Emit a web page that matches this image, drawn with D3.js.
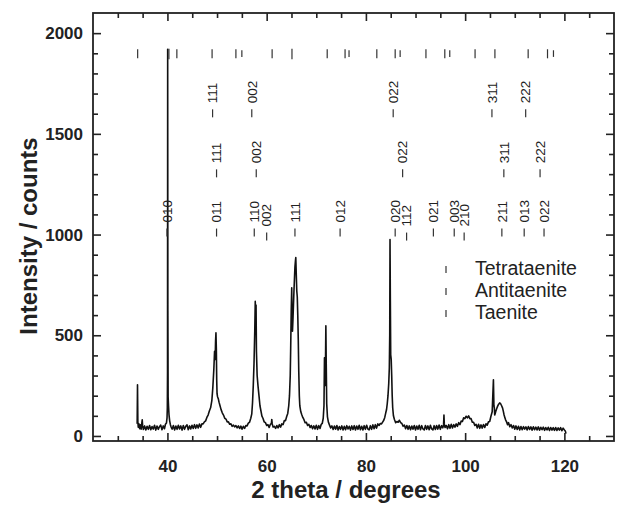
<!DOCTYPE html>
<html><head><meta charset="utf-8">
<script src="https://cdn.jsdelivr.net/npm/d3@7"></script>
<style>body{margin:0;background:#fff;} svg{display:block;}</style>
</head><body>
<svg id="chart" width="620" height="507"></svg>
<script>
// ---------------- data ----------------
const twoTheta = [
33.90,33.97,34.04,34.12,34.25,34.40,34.55,34.70,34.85,34.92,35.00,35.15,35.40,35.65,35.90,36.15,36.40,36.65,36.90,37.15,
37.40,37.65,37.90,38.15,38.40,38.65,38.90,39.15,39.40,39.60,39.80,39.92,39.98,40.02,40.05,40.09,40.14,40.22,40.32,40.45,
40.60,40.75,40.95,41.20,41.45,41.70,41.95,42.20,42.45,42.70,42.95,43.20,43.45,43.70,43.95,44.20,44.45,44.70,44.95,45.20,
45.45,45.70,45.95,46.20,46.45,46.70,46.95,47.20,47.45,47.70,47.95,48.20,48.45,48.70,48.95,49.15,49.35,49.50,49.62,49.70,
49.78,49.86,49.93,50.00,50.10,50.25,50.40,50.60,50.80,51.05,51.30,51.55,51.80,52.05,52.30,52.55,52.80,53.05,53.30,53.55,
53.80,54.05,54.30,54.55,54.80,55.05,55.30,55.55,55.80,56.05,56.30,56.55,56.80,57.00,57.15,57.30,57.45,57.60,57.70,57.78,
57.86,57.94,58.08,58.25,58.45,58.65,58.85,59.05,59.25,59.50,59.75,60.00,60.25,60.50,60.75,60.95,61.03,61.12,61.30,61.55,
61.80,62.05,62.30,62.55,62.80,63.05,63.30,63.55,63.80,64.05,64.25,64.45,64.60,64.75,64.85,64.95,65.05,65.12,65.20,65.30,
65.40,65.50,65.60,65.70,65.80,65.87,65.97,66.07,66.17,66.27,66.37,66.47,66.58,66.68,66.88,67.08,67.28,67.50,67.75,68.00,
68.25,68.50,68.75,69.00,69.25,69.50,69.75,70.00,70.25,70.50,70.75,71.00,71.20,71.40,71.55,71.65,71.73,71.83,71.93,72.01,
72.10,72.25,72.45,72.65,72.90,73.15,73.40,73.65,73.90,74.15,74.40,74.65,74.90,75.15,75.40,75.65,75.90,76.15,76.40,76.65,
76.90,77.15,77.40,77.65,77.90,78.15,78.40,78.65,78.90,79.15,79.40,79.65,79.90,80.15,80.40,80.65,80.90,81.15,81.40,81.65,
81.90,82.15,82.40,82.65,82.90,83.15,83.40,83.60,83.80,84.00,84.15,84.30,84.45,84.60,84.72,84.80,84.86,84.92,85.00,85.10,
85.20,85.30,85.40,85.55,85.75,86.00,86.25,86.50,86.75,87.00,87.25,87.50,87.75,88.00,88.25,88.50,88.75,89.00,89.25,89.50,
89.75,90.00,90.25,90.50,90.75,91.00,91.25,91.50,91.75,92.00,92.25,92.50,92.75,93.00,93.25,93.50,93.75,94.00,94.25,94.50,
94.75,95.00,95.25,95.50,95.65,95.73,95.80,95.95,96.20,96.45,96.70,96.95,97.20,97.45,97.70,97.95,98.20,98.45,98.70,98.95,
99.20,99.45,99.70,99.95,100.20,100.45,100.70,100.95,101.20,101.45,101.70,101.95,102.20,102.45,102.70,102.95,103.20,103.45,103.70,103.95,
104.20,104.45,104.70,104.95,105.20,105.45,105.70,105.80,105.88,105.96,106.04,106.15,106.35,106.55,106.75,106.95,107.15,107.35,107.55,107.70,
107.85,108.00,108.15,108.35,108.55,108.75,109.00,109.25,109.50,109.75,110.00,110.25,110.50,110.75,111.00,111.25,111.50,111.75,112.00,112.25,
112.50,112.75,113.00,113.25,113.50,113.75,114.00,114.25,114.50,114.75,115.00,115.25,115.50,115.75,116.00,116.25,116.50,116.75,117.00,117.25,
117.50,117.75,118.00,118.25,118.50,118.75,119.00,119.25,119.50,119.75,120.00,120.15,120.25,120.30
];
const counts = [
60,254,72,44,60,36,56,34,66,80,50,32,50,30,48,33,52,31,47,34,
53,29,49,33,46,54,31,50,36,58,64,90,140,320,1920,620,195,150,105,75,
56,44,34,52,30,49,33,53,35,50,29,52,33,48,55,31,50,35,53,37,
56,38,55,40,59,43,60,60,70,75,92,104,124,140,175,240,330,420,380,470,
512,430,280,210,195,185,168,150,132,115,104,88,84,70,70,58,60,48,54,45,
52,40,50,37,49,34,48,38,52,50,64,68,88,110,165,250,360,520,668,600,
650,420,300,250,200,150,124,98,88,70,66,52,56,42,58,62,82,60,44,48,
38,52,40,56,44,60,56,76,76,98,112,150,200,300,450,620,736,560,520,580,
650,720,780,840,870,886,800,720,690,600,480,320,200,150,120,105,92,82,66,68,
52,58,42,52,36,50,35,53,33,51,37,58,62,88,150,388,250,300,547,350,
160,95,68,55,40,50,32,49,34,52,30,47,33,50,30,48,31,51,35,48,
29,50,32,51,30,49,33,53,31,48,30,51,33,53,34,30,51,33,55,36,
56,39,60,52,62,60,70,78,92,115,130,160,200,260,338,500,975,700,403,380,
300,200,140,100,82,66,72,68,78,66,62,48,54,36,52,33,50,31,49,34,
52,30,49,33,53,31,51,35,30,52,33,50,31,53,35,30,51,32,52,34,
54,33,51,40,55,104,60,42,52,36,56,38,58,40,56,44,60,48,66,56,
74,72,90,86,98,90,100,86,86,68,68,52,58,40,58,38,55,39,57,42,
60,54,70,72,98,120,279,150,140,104,110,120,135,148,158,164,160,150,138,122,
104,92,80,70,56,66,46,56,40,52,34,50,32,48,30,47,31,46,34,45,
30,47,32,45,29,46,31,44,30,45,29,43,31,44,28,42,30,43,27,42,
29,41,28,42,27,40,29,41,26,39,30,26,20,12
];

const xTickValues = [40, 60, 80, 100, 120];
const yTickValues = [0, 500, 1000, 1500, 2000];

const phaseNames = ["Tetrataenite", "Antitaenite", "Taenite"];
const tetrataenitePeaks = [34.0, 41.9, 49.0, 53.8, 61.1, 72.2, 75.8, 82.2, 85.9, 92.1, 95.9, 102.0, 106.0, 112.7, 116.6];
const antitaenitePeaks = [55.0, 76.6, 86.9, 96.9, 117.8];
const taenitePeaks = [40.3, 65.1];

const hklRow1 = ["111", "002", "022", "311", "222"];
const posRow1 = [49.1, 57.0, 85.5, 105.4, 112.2];
const hklRow2 = ["111", "002", "022", "311", "222"];
const posRow2 = [49.9, 57.9, 87.4, 107.8, 115.1];
const hklRow3 = ["010", "011", "110", "002", "111", "012", "020", "112", "021", "003", "210", "211", "013", "022"];
const posRow3 = [39.9, 49.9, 57.5, 60.0, 65.7, 74.8, 85.9, 88.2, 93.6, 97.8, 99.8, 107.4, 111.9, 115.9];
const rowLevels = [1582, 1284, 990];

// ---------------- drawing ----------------
const svg = d3.select("#chart");
const L = 93, R = 614, T = 13, B = 441;
const x = d3.scaleLinear().domain([25, 130]).range([L, R]);
const y = d3.scaleLinear().domain([-25, 2100]).range([B, T]);
const ink = "#222";
const font = "Liberation Sans, Arial, sans-serif";

const pts = twoTheta.map((t, i) => [t, counts[i]]);
svg.append("path").datum(pts)
  .attr("fill", "none").attr("stroke", "#111").attr("stroke-width", 1.6)
  .attr("stroke-linejoin", "round")
  .attr("d", d3.line().x(d => x(d[0])).y(d => y(d[1])));

const xMinor = d3.range(30, 130, 5).filter(v => !xTickValues.includes(v));
const yMinor = d3.range(100, 2100, 100).filter(v => !yTickValues.includes(v));

function styleAxis(g) {
  g.select(".domain").remove();
  g.selectAll(".tick line").attr("stroke", ink).attr("stroke-width", 1.6);
  g.selectAll("text").attr("fill", ink).attr("font-family", font)
    .attr("font-size", 17).attr("font-weight", "bold");
}
svg.append("g").attr("transform", `translate(0,${B})`)
  .call(d3.axisBottom(x).tickValues(xTickValues).tickSize(-8).tickPadding(19).tickFormat(d3.format("d"))).call(styleAxis);
svg.append("g").attr("transform", `translate(0,${B})`)
  .call(d3.axisBottom(x).tickValues(xMinor).tickSize(-5).tickFormat("")).call(styleAxis);
svg.append("g").attr("transform", `translate(0,${T})`)
  .call(d3.axisTop(x).tickValues(xTickValues).tickSize(-8).tickFormat("")).call(styleAxis);
svg.append("g").attr("transform", `translate(0,${T})`)
  .call(d3.axisTop(x).tickValues(xMinor).tickSize(-5).tickFormat("")).call(styleAxis);
svg.append("g").attr("transform", `translate(${L},0)`)
  .call(d3.axisLeft(y).tickValues(yTickValues).tickSize(-8).tickPadding(10).tickFormat(d3.format("d"))).call(styleAxis);
svg.append("g").attr("transform", `translate(${L},0)`)
  .call(d3.axisLeft(y).tickValues(yMinor).tickSize(-5).tickFormat("")).call(styleAxis);
svg.append("g").attr("transform", `translate(${R},0)`)
  .call(d3.axisRight(y).tickValues(yTickValues).tickSize(-8).tickFormat("")).call(styleAxis);
svg.append("g").attr("transform", `translate(${R},0)`)
  .call(d3.axisRight(y).tickValues(yMinor).tickSize(-5).tickFormat("")).call(styleAxis);

svg.append("rect").attr("x", L).attr("y", T).attr("width", R - L).attr("height", B - T)
  .attr("fill", "none").attr("stroke", ink).attr("stroke-width", 1.8);

// phase reference ticks
const phaseTickRanges = [[1875, 1920], [1882, 1915], [1870, 1922]];
[tetrataenitePeaks, antitaenitePeaks, taenitePeaks].forEach((arr, k) => {
  svg.append("g").selectAll("line").data(arr).join("line")
    .attr("x1", d => x(d)).attr("x2", d => x(d))
    .attr("y1", y(phaseTickRanges[k][0])).attr("y2", y(phaseTickRanges[k][1]))
    .attr("stroke", "#333").attr("stroke-width", 1.2);
});

// hkl labels
function drawRow(hkls, pos, level) {
  pos.forEach((p, i) => {
    const shift = (i > 0 && p - pos[i - 1] < 3) ? 4 : 0;
    const g = svg.append("g").attr("transform", `translate(${x(p)},${y(level) + shift}) rotate(-90)`);
    g.append("line").attr("x1", 0).attr("x2", 8).attr("y1", 0).attr("y2", 0)
      .attr("stroke", "#333").attr("stroke-width", 1.2);
    g.append("text").attr("x", 14).attr("dy", "0.35em")
      .attr("font-family", font).attr("font-size", 13.5)
      .attr("fill", "#222").text(hkls[i]);
  });
}
drawRow(hklRow1, posRow1, rowLevels[0]);
drawRow(hklRow2, posRow2, rowLevels[1]);
drawRow(hklRow3, posRow3, rowLevels[2]);

// legend
phaseNames.forEach((name, i) => {
  const by = 275 + i * 22;
  svg.append("line").attr("x1", 446).attr("x2", 446).attr("y1", by - 9).attr("y2", by - 2)
    .attr("stroke", "#333").attr("stroke-width", 1.2);
  svg.append("text").attr("x", 475).attr("y", by)
    .attr("font-family", font).attr("font-size", 19.5)
    .attr("fill", "#222").text(name);
});

// axis titles
svg.append("text").attr("x", 346).attr("y", 498).attr("text-anchor", "middle")
  .attr("font-family", font).attr("font-size", 24)
  .attr("font-weight", "bold").attr("fill", ink).text("2 theta / degrees");
svg.append("text").attr("transform", "translate(37,236) rotate(-90)").attr("text-anchor", "middle")
  .attr("font-family", font).attr("font-size", 24)
  .attr("font-weight", "bold").attr("fill", ink).text("Intensity / counts");
</script>
</body></html>
